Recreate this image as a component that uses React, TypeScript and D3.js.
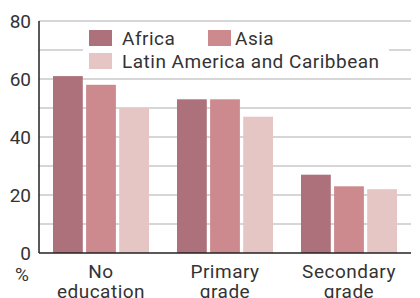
import { useEffect, useRef } from 'react'
import { axisLeft, scaleBand, scaleLinear, select } from 'd3'

const categories = [['No', 'education'], ['Primary', 'grade'], ['Secondary', 'grade']]
const series = ['Africa', 'Asia', 'Latin America and Caribbean']
const africa = [61, 53, 27]
const asia = [58, 53, 23]
const latinAmerica = [50, 47, 22]
const yTicks = [0, 20, 40, 60, 80]
const gridTicks = [10, 20, 30, 40, 50, 60, 70, 80]

const colors = ['#ad717b', '#cc8a8e', '#e5c6c4']
const font = 'Roboto, "DejaVu Sans", sans-serif'
const fontSize = 19

const margin = { top: 21, right: 9, bottom: 45, left: 39 }
const width = 420
const height = 298

export default function App() {
  const yAxisRef = useRef<SVGGElement>(null)
  const innerWidth = width - margin.left - margin.right
  const innerHeight = height - margin.top - margin.bottom

  const values = [africa, asia, latinAmerica]
  const xScale = scaleBand<number>()
    .domain(categories.map((_, i) => i))
    .range([0, innerWidth])
    .paddingInner(28 / 124)
    .paddingOuter(14 / 124)
  const yScale = scaleLinear().domain([0, 80]).range([innerHeight, 0])

  // three bars per group, small gap between them
  const inner = scaleBand<number>()
    .domain([0, 1, 2])
    .range([0, xScale.bandwidth()])
    .paddingInner(0.1)

  useEffect(() => {
    if (!yAxisRef.current) return
    const g = select(yAxisRef.current)
    g.call(axisLeft(yScale).tickValues(yTicks).tickSize(0).tickPadding(8))
    g.select('.domain').remove()
    g.selectAll('text')
      .attr('font-family', font)
      .attr('font-size', fontSize)
      .attr('fill', '#333')
      .attr('dy', '0.36em')
  }, [yScale])

  const half = xScale.bandwidth() / 2

  return (
    <svg
      width={width}
      height={height}
      style={{ position: 'absolute', left: 0, top: 0, background: '#fff' }}
    >
      <g transform={`translate(${margin.left}, ${margin.top})`}>
        {gridTicks.map((t) => (
          <line
            key={t}
            x1={0}
            x2={innerWidth}
            y1={yScale(t)}
            y2={yScale(t)}
            stroke="#c8c8c8"
            strokeWidth={1.3}
          />
        ))}
        <rect x={44} y={4} width={306} height={50} fill="#fff" />

        {categories.map((cat, i) => (
          <g key={i} transform={`translate(${xScale(i)}, 0)`}>
            {values.map((vals, s) => (
              <rect
                key={s}
                x={inner(s)}
                y={yScale(vals[i])}
                width={inner.bandwidth()}
                height={innerHeight - yScale(vals[i])}
                fill={colors[s]}
              />
            ))}
            <text
              y={innerHeight + 25}
              textAnchor="middle"
              fontFamily={font}
              fontSize={fontSize}
              letterSpacing={0.5}
              fill="#333"
            >
              <tspan x={half}>{cat[0]}</tspan>
              <tspan x={half} dy={20}>{cat[1]}</tspan>
            </text>
          </g>
        ))}

        <line x1={0} x2={0} y1={0} y2={innerHeight} stroke="#222" strokeWidth={1.5} />
        <line x1={0} x2={innerWidth} y1={innerHeight} y2={innerHeight} stroke="#222" strokeWidth={1.5} />
        <g ref={yAxisRef} />
        <text x={-17} y={innerHeight + 28} textAnchor="middle" fontFamily={font} fontSize={fontSize} fill="#333">
          %
        </text>

        {/* legend */}
        {series.map((name, s) => {
          const lx = s === 1 ? 169 : 50
          const ly = s === 2 ? 32 : 9
          const tx = s === 1 ? 27 : 33
          return (
            <g key={name} transform={`translate(${lx}, ${ly})`}>
              <rect width={23} height={16} fill={colors[s]} />
              <text x={tx} y={14.5} fontFamily={font} fontSize={fontSize} letterSpacing={0.5} fill="#333">
                {name}
              </text>
            </g>
          )
        })}
      </g>
    </svg>
  )
}
